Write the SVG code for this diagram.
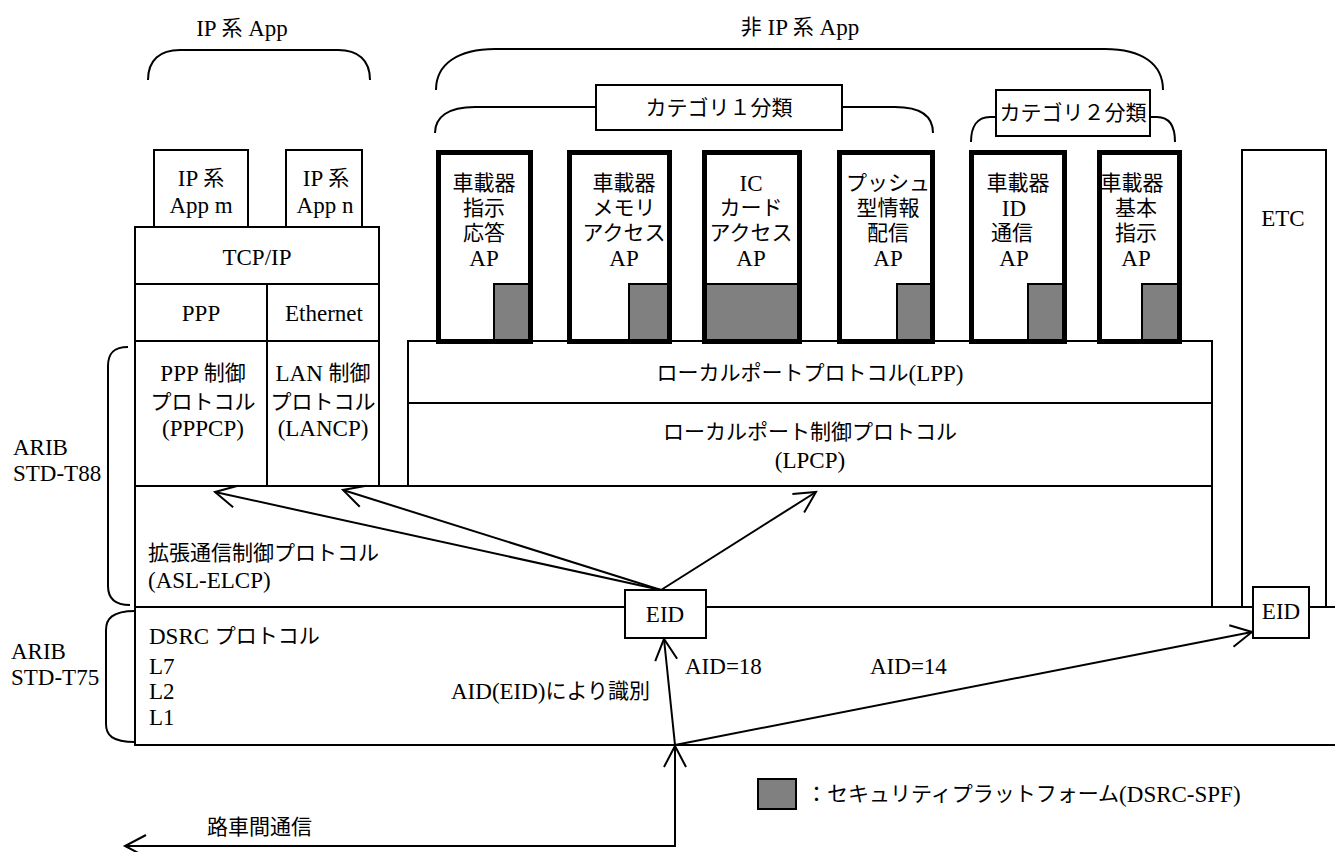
<svg xmlns="http://www.w3.org/2000/svg" width="1335" height="852" viewBox="0 0 1335 852">
<style>
text{font-family:"Liberation Serif","Noto Sans CJK JP",serif;font-size:21px;fill:#000;dominant-baseline:central}
.l,tspan.l{font-size:23px}
.c{text-anchor:middle}
.ln{stroke:#000;stroke-width:2;fill:none}
.box{stroke:#000;stroke-width:2;fill:#fff}
.ap{stroke:#000;stroke-width:5;fill:none}
.spf{stroke:#000;stroke-width:2;fill:#808080}
.arr{stroke:#000;stroke-width:2;fill:none;marker-end:url(#oa)}
</style>
<defs>
<marker id="oa" markerUnits="userSpaceOnUse" viewBox="-24 -14 28 28" markerWidth="28" markerHeight="28" refX="0" refY="0" orient="auto" overflow="visible">
<path d="M-21,-11 L0,0 L-21,11" fill="none" stroke="#000" stroke-width="2"/>
</marker>
</defs>
<rect width="1335" height="852" fill="#fff"/>

<g id="braces">
<path class="ln" d="M148,80 C148,60 160,50 180,50 L338,50 C358,50 370,60 370,80"/>
<text class="c" x="242" y="28"><tspan class="l">IP </tspan>系<tspan class="l"> App</tspan></text>
<path class="ln" d="M436,90 C436,64 458,49 495,49 L1105,49 C1142,49 1163,64 1163,90"/>
<text class="c" x="800" y="27">非<tspan class="l"> IP </tspan>系<tspan class="l"> App</tspan></text>
<path class="ln" d="M435,133 C435,117 448,107 475,107 L596,107 M842,107 L895,107 C922,107 933,117 933,133"/>
<path class="ln" d="M971,142 C971,127 977,117 990,117 L996,117 M1150,117 L1157,117 C1170,117 1175,127 1175,142"/>
<path class="ln" d="M128,347 C112,347 108,355 108,366 L108,586 C108,597 113,605 130,605"/>
<path class="ln" d="M135,611 C112,611 106,619 106,630 L106,724 C106,735 112,742 135,742"/>
</g>

<g id="std-labels">
<text class="l" x="13" y="447">ARIB</text><text class="l" x="13" y="473">STD-T88</text>
<text class="l" x="11" y="651">ARIB</text><text class="l" x="11" y="677">STD-T75</text>
</g>

<g id="cat1"><rect class="box" x="596" y="85" width="246" height="45"/><text class="c" x="719" y="108">カテゴリ１分類</text></g>
<g id="cat2"><rect class="box" x="996" y="90" width="154" height="46"/><text class="c" x="1073" y="113">カテゴリ２分類</text></g>

<g id="ipapp-m"><rect class="box" x="154" y="150" width="94" height="77"/><text class="c" x="201" y="178"><tspan class="l">IP </tspan>系</text><text class="c l" x="201" y="205">App m</text></g>
<g id="ipapp-n"><rect class="box" x="286" y="150" width="76" height="77"/><text class="c" x="326" y="178"><tspan class="l">IP </tspan>系</text><text class="c l" x="325" y="205">App n</text></g>

<g id="tcpip"><rect class="box" x="135" y="227" width="244" height="57"/><text class="c l" x="257" y="257">TCP/IP</text></g>
<g id="ppp"><rect class="box" x="135" y="284" width="132" height="57"/><text class="c l" x="201" y="313">PPP</text></g>
<g id="ethernet"><rect class="box" x="267" y="284" width="112" height="57"/><text class="c l" x="324" y="313">Ethernet</text></g>
<g id="pppcp"><rect class="box" x="135" y="341" width="132" height="145"/><text class="c" x="203" y="373"><tspan class="l">PPP </tspan>制御</text><text class="c" x="203" y="402">プロトコル</text><text class="c l" x="203" y="428">(PPPCP)</text></g>
<g id="lancp"><rect class="box" x="267" y="341" width="112" height="145"/><text class="c" x="323" y="373"><tspan class="l">LAN </tspan>制御</text><text class="c" x="323" y="402">プロトコル</text><text class="c l" x="323" y="428">(LANCP)</text></g>

<g id="lpp"><rect class="box" x="408" y="341" width="804" height="62"/><text class="c" x="810" y="373">ローカルポートプロトコル<tspan class="l">(LPP)</tspan></text></g>
<g id="lpcp"><rect class="box" x="408" y="403" width="804" height="83"/><text class="c" x="810" y="432">ローカルポート制御プロトコル</text><text class="c l" x="810" y="460">(LPCP)</text></g>

<g id="aslelcp"><path class="ln" d="M135,486 L1212,486 L1212,607 M135,486 L135,607"/><text x="148" y="553">拡張通信制御プロトコル</text><text class="l" x="148" y="580">(ASL-ELCP)</text></g>

<g id="dsrc"><path class="ln" d="M1335,607 L135,607 L135,745 L1335,745"/><text x="149" y="636"><tspan class="l">DSRC </tspan>プロトコル</text><text class="l" x="149" y="666">L7</text><text class="l" x="149" y="691">L2</text><text class="l" x="149" y="717">L1</text><text x="451" y="691"><tspan class="l">AID(EID)</tspan>により識別</text><text class="l" x="685" y="666">AID=18</text><text class="l" x="870" y="666">AID=14</text></g>

<g id="etc"><path class="ln" d="M1242,607 L1242,150 L1326,150 L1326,607"/><text class="c l" x="1283" y="218">ETC</text></g>

<g id="ap1"><rect class="spf" x="494" y="284" width="37" height="57"/><rect class="ap" x="438.5" y="152.5" width="92" height="189"/><text class="c" x="484" y="183">車載器</text><text class="c" x="484" y="208">指示</text><text class="c" x="484" y="233">応答</text><text class="c l" x="484" y="258">AP</text></g>
<g id="ap2"><rect class="spf" x="629" y="284" width="40" height="57"/><rect class="ap" x="569.5" y="152.5" width="100" height="189"/><text class="c" x="624" y="183">車載器</text><text class="c" x="624" y="208">メモリ</text><text class="c" x="624" y="233">アクセス</text><text class="c l" x="624" y="258">AP</text></g>
<g id="ap3"><rect class="spf" x="705" y="284" width="94" height="57"/><rect class="ap" x="704.5" y="152.5" width="95" height="189"/><text class="c l" x="751" y="183">IC</text><text class="c" x="751" y="208">カード</text><text class="c" x="751" y="233">アクセス</text><text class="c l" x="751" y="258">AP</text></g>
<g id="ap4"><rect class="spf" x="897" y="284" width="35" height="57"/><rect class="ap" x="839.5" y="152.5" width="93" height="189"/><text class="c" x="888" y="183">プッシュ</text><text class="c" x="888" y="208">型情報</text><text class="c" x="888" y="233">配信</text><text class="c l" x="888" y="258">AP</text></g>
<g id="ap5"><rect class="spf" x="1028" y="284" width="36" height="57"/><rect class="ap" x="971.5" y="152.5" width="93" height="189"/><text class="c" x="1018" y="183">車載器</text><text class="c l" x="1014" y="208">ID</text><text class="c" x="1012" y="233">通信</text><text class="c l" x="1014" y="258">AP</text></g>
<g id="ap6"><rect class="spf" x="1142" y="284" width="37" height="57"/><rect class="ap" x="1099.5" y="152.5" width="80" height="189"/><text class="c" x="1132" y="183">車載器</text><text class="c" x="1136" y="208">基本</text><text class="c" x="1136" y="233">指示</text><text class="c l" x="1136" y="258">AP</text></g>

<g id="connectors">
<line class="arr" x1="661" y1="590" x2="215" y2="492"/>
<line class="arr" x1="661" y1="590" x2="343" y2="490"/>
<line class="arr" x1="661" y1="590" x2="816" y2="492"/>
<line class="arr" x1="675" y1="745" x2="664" y2="639"/>
<line class="arr" x1="675" y1="745" x2="1252" y2="632"/>
<line class="arr" x1="675" y1="846" x2="675" y2="746"/>
<path class="arr" d="M675,746 L675,846 L125,846"/>
</g>

<g id="eid1"><rect class="box" x="625" y="590" width="81" height="48"/><text class="c l" x="665" y="614">EID</text></g>
<g id="eid2"><rect class="box" x="1253" y="587" width="56" height="51"/><text class="c l" x="1281" y="611">EID</text></g>

<g id="road-label"><text x="207" y="827">路車間通信</text></g>
<g id="legend"><rect class="spf" x="758" y="779" width="38" height="30"/><text x="806" y="794">：セキュリティプラットフォーム<tspan class="l">(DSRC-SPF)</tspan></text></g>
</svg>
